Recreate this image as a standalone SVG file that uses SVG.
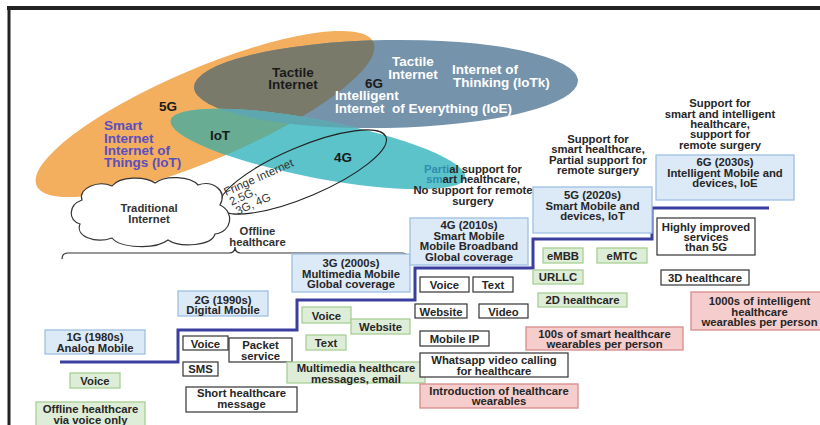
<svg xmlns="http://www.w3.org/2000/svg" width="820" height="425" viewBox="0 0 820 425">
<defs>
<style>
text{font-family:"Liberation Sans",Arial,sans-serif}
.t{font-size:11.3px;font-weight:bold;fill:#262626;text-anchor:middle}
.L{font-size:13.5px;font-weight:bold;fill:#1a1a1a}
.Lc{font-size:13.5px;font-weight:bold;fill:#1a1a1a;text-anchor:middle}
.W{font-size:13.5px;font-weight:bold;fill:#ffffff}
.Wc{font-size:13.5px;font-weight:bold;fill:#ffffff;text-anchor:middle}
.P{font-size:13.5px;font-weight:bold;fill:#5a4fbf}
.fr{font-size:11.5px;fill:#333}
.bb{fill:#dce9f6;stroke:#9fc0e2;stroke-width:1.3}
.gb{fill:#deedd8;stroke:#a8cf95;stroke-width:1.3}
.pb{fill:#f5cdcd;stroke:#d88a8a;stroke-width:1.3}
.wb{fill:#ffffff;stroke:#333;stroke-width:1.2}
.ln{fill:none;stroke:#333;stroke-width:1.2}
</style>
<clipPath id="cO"><ellipse cx="205" cy="114" rx="183" ry="46" transform="rotate(-23 205 114)"/></clipPath>
<clipPath id="cB"><ellipse cx="386" cy="84" rx="192" ry="44" transform="rotate(-1 386 84)"/></clipPath>
</defs>
<rect width="820" height="425" fill="#ffffff"/>
<g id="frame" stroke="#222">
<line x1="7" y1="8" x2="820" y2="8" stroke-width="4"/>
<line x1="9" y1="6" x2="9" y2="425" stroke-width="3"/>
</g>

<g id="ellipses">
<ellipse id="e5g" cx="205" cy="114" rx="183" ry="46" transform="rotate(-23 205 114)" fill="#f3ae5e"/>
<ellipse id="e6g" cx="386" cy="84" rx="192" ry="44" transform="rotate(-1 386 84)" fill="#7593ab"/>
<g clip-path="url(#cO)"><ellipse cx="386" cy="84" rx="192" ry="44" transform="rotate(-1 386 84)" fill="#7a7a6a"/></g>
<ellipse id="e4g" cx="318" cy="149" rx="150" ry="29" transform="rotate(11 318 149)" fill="#5cc3ca"/>
<g clip-path="url(#cO)"><ellipse cx="318" cy="149" rx="150" ry="29" transform="rotate(11 318 149)" fill="#68ad93"/></g>
<g clip-path="url(#cB)"><ellipse cx="318" cy="149" rx="150" ry="29" transform="rotate(11 318 149)" fill="#5ea6b0"/></g>
<ellipse id="efringe" cx="303" cy="172" rx="90" ry="25" transform="rotate(-23 303 172)" fill="none" stroke="#222" stroke-width="1.1"/>
</g>

<g id="labels-5g">
<text class="Lc" x="168" y="111">5G</text>
<text class="P" x="104" y="130">Smart</text>
<text class="P" x="104" y="142.5">Internet</text>
<text class="P" x="104" y="154.5">Internet of</text>
<text class="P" x="104" y="166.5">Things (IoT)</text>
<text class="Lc" x="293" y="77">Tactile</text>
<text class="Lc" x="293" y="89">Internet</text>
<text class="Lc" x="220" y="140">IoT</text>
</g>
<g id="labels-6g">
<text class="Lc" x="374" y="87.5">6G</text>
<text class="Wc" x="413" y="66">Tactile</text>
<text class="Wc" x="413" y="78.5">Internet</text>
<text class="W" x="452" y="74">Internet of</text>
<text class="W" x="453" y="86.5">Thinking (IoTk)</text>
<text class="W" x="335" y="99.5">Intelligent</text>
<text class="W" x="335" y="112.5" xml:space="preserve">Internet  of Everything (IoE)</text>
</g>
<g id="labels-4g">
<text class="Lc" x="343" y="162">4G</text>
<g transform="translate(226 196) rotate(-24)">
<text class="fr" x="0" y="0">Fringe Internet</text>
<text class="fr" x="1" y="11">2.5G,</text>
<text class="fr" x="3" y="22">3G, 4G</text>
</g>
</g>

<g id="cloud">
<path class="ln" style="fill:#fff" d="M82 200 C78 188 98 180 112 186 C120 176 145 176 155 183 C165 175 190 176 198 185 C212 180 228 190 220 205 C235 212 232 232 215 234 C212 246 180 248 168 240 C155 250 120 248 112 238 C95 244 75 236 80 224 C68 220 68 205 82 200 Z"/>
<text class="t" x="149" y="212" style="fill:#333">Traditional</text>
<text class="t" x="149" y="223" style="fill:#333">Internet</text>
</g>

<g id="offline">
<text class="t" x="257.5" y="235" style="fill:#333">Offline</text>
<text class="t" x="257.5" y="245.5" style="fill:#333">healthcare</text>
</g>

<g id="connectors">
<path class="ln" d="M62 259 Q62 253 68 253 L229 253 Q235 253 235 247 Q235 253 241 253 L402 253 Q408 253 408 259"/>
<path d="M60 362 H178 V330 H297 V300 H415 V268 H533 V239 H652 V208 H769" fill="none" stroke="#3a3e9f" stroke-width="3"/>
</g>

<g id="support-4g">
<text class="t" x="473" y="172.5"><tspan fill="#2f8db0">Parti</tspan>al support for</text>
<text class="t" x="473" y="183"><tspan fill="#2f8db0">sm</tspan>art healthcare,</text>
<text class="t" x="473" y="194">No support for remote</text>
<text class="t" x="473" y="204.5">surgery</text>
</g>
<g id="support-5g">
<text class="t" x="598" y="142.5">Support for</text>
<text class="t" x="598" y="153">smart healthcare,</text>
<text class="t" x="598" y="163.5">Partial support for</text>
<text class="t" x="598" y="174">remote surgery</text>
</g>
<g id="support-6g">
<text class="t" x="720" y="107">Support for</text>
<text class="t" x="720" y="117.5">smart and intelligent</text>
<text class="t" x="720" y="127.5">healthcare,</text>
<text class="t" x="720" y="138">support for</text>
<text class="t" x="720" y="148.5">remote surgery</text>
</g>

<g id="gen-1g">
<rect class="bb" x="45" y="330" width="100" height="24"/>
<text class="t" x="95" y="341">1G (1980s)</text>
<text class="t" x="95" y="351.5">Analog Mobile</text>
</g>
<g id="gen-2g">
<rect class="bb" x="178" y="291" width="90" height="25"/>
<text class="t" x="223" y="303.5">2G (1990s)</text>
<text class="t" x="223" y="313.5">Digital Mobile</text>
</g>
<g id="gen-3g">
<rect class="bb" x="292" y="254" width="118" height="38"/>
<text class="t" x="351" y="267">3G (2000s)</text>
<text class="t" x="351" y="277.5">Multimedia Mobile</text>
<text class="t" x="351" y="288">Global coverage</text>
</g>
<g id="gen-4g">
<rect class="bb" x="410" y="218" width="118" height="47"/>
<text class="t" x="469" y="229">4G (2010s)</text>
<text class="t" x="469" y="239.5">Smart Mobile</text>
<text class="t" x="469" y="250">Mobile Broadband</text>
<text class="t" x="469" y="260.5">Global coverage</text>
</g>
<g id="gen-5g">
<rect class="bb" x="533" y="187" width="119" height="46"/>
<text class="t" x="592.5" y="199">5G (2020s)</text>
<text class="t" x="592.5" y="209.5">Smart Mobile and</text>
<text class="t" x="592.5" y="220">devices, IoT</text>
</g>
<g id="gen-6g">
<rect class="bb" x="656" y="155" width="138" height="45"/>
<text class="t" x="725" y="166">6G (2030s)</text>
<text class="t" x="725" y="176.5">Intelligent Mobile and</text>
<text class="t" x="725" y="187">devices, IoE</text>
</g>

<g id="g1-voice"><rect class="gb" x="70" y="373" width="50" height="15"/><text class="t" x="95" y="384.5">Voice</text></g>
<g id="g1-offline"><rect class="gb" x="36" y="402" width="109" height="30"/><text class="t" x="90.5" y="413">Offline healthcare</text><text class="t" x="90.5" y="423.5">via voice only</text></g>

<g id="g2-voice"><rect class="wb" x="183" y="336" width="45" height="14"/><text class="t" x="205.5" y="347.5">Voice</text></g>
<g id="g2-packet"><rect class="wb" x="229" y="338" width="63" height="24"/><text class="t" x="260.5" y="349">Packet</text><text class="t" x="260.5" y="359.5">service</text></g>
<g id="g2-sms"><rect class="wb" x="183" y="362" width="35" height="14"/><text class="t" x="200.5" y="373">SMS</text></g>
<g id="g2-short"><rect class="wb" x="186" y="387" width="111" height="25"/><text class="t" x="241.5" y="397">Short healthcare</text><text class="t" x="241.5" y="407.5">message</text></g>

<g id="g3-voice"><rect class="gb" x="302" y="307" width="49" height="16"/><text class="t" x="326.5" y="319.5">Voice</text></g>
<g id="g3-website"><rect class="gb" x="351" y="319" width="59" height="15"/><text class="t" x="380.5" y="331">Website</text></g>
<g id="g3-text"><rect class="gb" x="306" y="335" width="40" height="15"/><text class="t" x="326" y="346.5">Text</text></g>
<g id="g3-multi"><rect class="gb" x="287" y="362" width="138" height="21"/><text class="t" x="356" y="372">Multimedia healthcare</text><text class="t" x="356" y="382.5">messages, email</text></g>

<g id="g4-voice"><rect class="wb" x="420" y="277" width="49" height="15"/><text class="t" x="444.5" y="288.5">Voice</text></g>
<g id="g4-text"><rect class="wb" x="473" y="277" width="40" height="15"/><text class="t" x="493" y="288.5">Text</text></g>
<g id="g4-website"><rect class="wb" x="415" y="304" width="52" height="14"/><text class="t" x="441" y="315.5">Website</text></g>
<g id="g4-video"><rect class="wb" x="479" y="304" width="49" height="14"/><text class="t" x="503.5" y="315.5">Video</text></g>
<g id="g4-mobileip"><rect class="wb" x="420" y="331" width="69" height="15"/><text class="t" x="454.5" y="342.5">Mobile IP</text></g>
<g id="g4-whatsapp"><rect class="wb" x="420" y="353" width="148" height="24"/><text class="t" x="494" y="364">Whatsapp video calling</text><text class="t" x="494" y="374.5">for healthcare</text></g>
<g id="g4-wearables"><rect class="pb" x="420" y="384" width="158" height="24"/><text class="t" x="499" y="394.5">Introduction of healthcare</text><text class="t" x="499" y="405">wearables</text></g>

<g id="g5-embb"><rect class="gb" x="543" y="248" width="40" height="15"/><text class="t" x="563" y="259.5">eMBB</text></g>
<g id="g5-emtc"><rect class="gb" x="597" y="248" width="50" height="15"/><text class="t" x="622" y="259.5">eMTC</text></g>
<g id="g5-urllc"><rect class="gb" x="533" y="270" width="50" height="14"/><text class="t" x="558" y="281">URLLC</text></g>
<g id="g5-2d"><rect class="gb" x="538" y="293" width="89" height="14"/><text class="t" x="582.5" y="304">2D healthcare</text></g>
<g id="g5-100s"><rect class="pb" x="526" y="327" width="157" height="23"/><text class="t" x="604.5" y="337.5">100s of smart healthcare</text><text class="t" x="604.5" y="348">wearables per person</text></g>

<g id="g6-highly"><rect class="wb" x="657" y="218" width="98" height="37"/><text class="t" x="706" y="231">Highly improved</text><text class="t" x="706" y="240.5">services</text><text class="t" x="706" y="250.5">than 5G</text></g>
<g id="g6-3d"><rect class="wb" x="661" y="270" width="88" height="15"/><text class="t" x="705" y="281.5">3D healthcare</text></g>
<g id="g6-1000s"><rect class="pb" x="691" y="292" width="132" height="38"/><text class="t" x="759.5" y="305">1000s of intelligent</text><text class="t" x="759.5" y="315.5">healthcare</text><text class="t" x="759.5" y="326">wearables per person</text></g>
</svg>
